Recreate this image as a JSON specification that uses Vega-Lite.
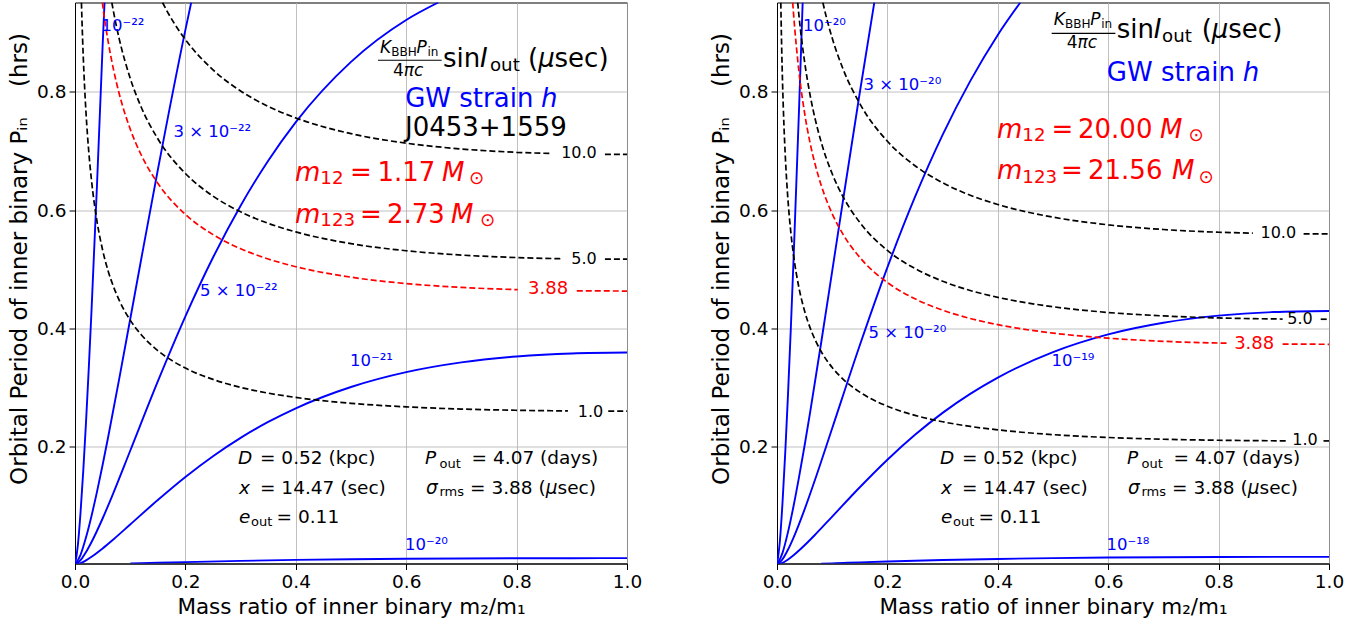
{
"$schema": "https://vega.github.io/schema/vega-lite/v6.json",
"padding": {"left": 8, "top": 1.5, "right": 5, "bottom": 2},
"autosize": {"type": "pad"},
"background": "white",
"data": {"values": [
{"p":"L","r":"h","s":"strain","c":"h22","q":0,"v":0},{"p":"L","r":"h","s":"strain","c":"h22","q":0.005,"v":0.0316},{"p":"L","r":"h","s":"strain","c":"h22","q":0.01,"v":0.0881},{"p":"L","r":"h","s":"strain","c":"h22","q":0.015,"v":0.1595},{"p":"L","r":"h","s":"strain","c":"h22","q":0.02,"v":0.242},{"p":"L","r":"h","s":"strain","c":"h22","q":0.025,"v":0.3333},{"p":"L","r":"h","s":"strain","c":"h22","q":0.03,"v":0.4319},{"p":"L","r":"h","s":"strain","c":"h22","q":0.04,"v":0.6458},{"p":"L","r":"h","s":"strain","c":"h22","q":0.05,"v":0.8768},{"p":"L","r":"h","s":"strain","c":"h22","q":0.0535,"v":0.951},
{"p":"L","r":"h","s":"strain","c":"h3","q":0,"v":0},{"p":"L","r":"h","s":"strain","c":"h3","q":0.01,"v":0.01696},{"p":"L","r":"h","s":"strain","c":"h3","q":0.02,"v":0.04658},{"p":"L","r":"h","s":"strain","c":"h3","q":0.03,"v":0.08314},{"p":"L","r":"h","s":"strain","c":"h3","q":0.04,"v":0.1243},{"p":"L","r":"h","s":"strain","c":"h3","q":0.05,"v":0.1688},{"p":"L","r":"h","s":"strain","c":"h3","q":0.06,"v":0.2157},{"p":"L","r":"h","s":"strain","c":"h3","q":0.08,"v":0.314},{"p":"L","r":"h","s":"strain","c":"h3","q":0.1,"v":0.4154},{"p":"L","r":"h","s":"strain","c":"h3","q":0.12,"v":0.5172},{"p":"L","r":"h","s":"strain","c":"h3","q":0.15,"v":0.6677},{"p":"L","r":"h","s":"strain","c":"h3","q":0.2,"v":0.9048},{"p":"L","r":"h","s":"strain","c":"h3","q":0.2105,"v":0.951},
{"p":"L","r":"h","s":"strain","c":"h5","q":0,"v":0},{"p":"L","r":"h","s":"strain","c":"h5","q":0.01,"v":0.00788},{"p":"L","r":"h","s":"strain","c":"h5","q":0.02,"v":0.02164},{"p":"L","r":"h","s":"strain","c":"h5","q":0.03,"v":0.03862},{"p":"L","r":"h","s":"strain","c":"h5","q":0.05,"v":0.0784},{"p":"L","r":"h","s":"strain","c":"h5","q":0.07,"v":0.1227},{"p":"L","r":"h","s":"strain","c":"h5","q":0.1,"v":0.193},{"p":"L","r":"h","s":"strain","c":"h5","q":0.15,"v":0.3102},{"p":"L","r":"h","s":"strain","c":"h5","q":0.2,"v":0.4203},{"p":"L","r":"h","s":"strain","c":"h5","q":0.25,"v":0.5197},{"p":"L","r":"h","s":"strain","c":"h5","q":0.3,"v":0.6074},{"p":"L","r":"h","s":"strain","c":"h5","q":0.35,"v":0.6834},{"p":"L","r":"h","s":"strain","c":"h5","q":0.4,"v":0.7487},{"p":"L","r":"h","s":"strain","c":"h5","q":0.5,"v":0.8506},{"p":"L","r":"h","s":"strain","c":"h5","q":0.6,"v":0.9214},{"p":"L","r":"h","s":"strain","c":"h5","q":0.6581,"v":0.951},
{"p":"L","r":"h","s":"strain","c":"h21","q":0,"v":0},{"p":"L","r":"h","s":"strain","c":"h21","q":0.01,"v":0.00279},{"p":"L","r":"h","s":"strain","c":"h21","q":0.02,"v":0.00765},{"p":"L","r":"h","s":"strain","c":"h21","q":0.03,"v":0.01366},{"p":"L","r":"h","s":"strain","c":"h21","q":0.05,"v":0.02773},{"p":"L","r":"h","s":"strain","c":"h21","q":0.07,"v":0.0434},{"p":"L","r":"h","s":"strain","c":"h21","q":0.1,"v":0.06825},{"p":"L","r":"h","s":"strain","c":"h21","q":0.15,"v":0.1097},{"p":"L","r":"h","s":"strain","c":"h21","q":0.2,"v":0.1487},{"p":"L","r":"h","s":"strain","c":"h21","q":0.25,"v":0.1838},{"p":"L","r":"h","s":"strain","c":"h21","q":0.3,"v":0.2148},{"p":"L","r":"h","s":"strain","c":"h21","q":0.35,"v":0.2417},{"p":"L","r":"h","s":"strain","c":"h21","q":0.4,"v":0.2648},{"p":"L","r":"h","s":"strain","c":"h21","q":0.5,"v":0.3008},{"p":"L","r":"h","s":"strain","c":"h21","q":0.6,"v":0.3259},{"p":"L","r":"h","s":"strain","c":"h21","q":0.7,"v":0.3424},{"p":"L","r":"h","s":"strain","c":"h21","q":0.8,"v":0.3524},{"p":"L","r":"h","s":"strain","c":"h21","q":0.9,"v":0.3575},{"p":"L","r":"h","s":"strain","c":"h21","q":1,"v":0.359},
{"p":"L","r":"h","s":"strain","c":"h20","q":0.1,"v":0.00216},{"p":"L","r":"h","s":"strain","c":"h20","q":0.12,"v":0.00269},{"p":"L","r":"h","s":"strain","c":"h20","q":0.15,"v":0.00347},{"p":"L","r":"h","s":"strain","c":"h20","q":0.2,"v":0.0047},{"p":"L","r":"h","s":"strain","c":"h20","q":0.3,"v":0.00679},{"p":"L","r":"h","s":"strain","c":"h20","q":0.4,"v":0.00837},{"p":"L","r":"h","s":"strain","c":"h20","q":0.5,"v":0.00951},{"p":"L","r":"h","s":"strain","c":"h20","q":0.6,"v":0.0103},{"p":"L","r":"h","s":"strain","c":"h20","q":0.7,"v":0.01082},{"p":"L","r":"h","s":"strain","c":"h20","q":0.8,"v":0.01114},{"p":"L","r":"h","s":"strain","c":"h20","q":0.9,"v":0.0113},{"p":"L","r":"h","s":"strain","c":"h20","q":1,"v":0.01135},
{"p":"L","r":"d","s":"timing","c":"t1","q":0.01167,"v":0.951},{"p":"L","r":"d","s":"timing","c":"t1","q":0.0125,"v":0.9246},{"p":"L","r":"d","s":"timing","c":"t1","q":0.015,"v":0.8583},{"p":"L","r":"d","s":"timing","c":"t1","q":0.0175,"v":0.8062},{"p":"L","r":"d","s":"timing","c":"t1","q":0.02,"v":0.7636},{"p":"L","r":"d","s":"timing","c":"t1","q":0.025,"v":0.6981},{"p":"L","r":"d","s":"timing","c":"t1","q":0.03,"v":0.6495},{"p":"L","r":"d","s":"timing","c":"t1","q":0.04,"v":0.5801},{"p":"L","r":"d","s":"timing","c":"t1","q":0.05,"v":0.5325},{"p":"L","r":"d","s":"timing","c":"t1","q":0.06,"v":0.4971},{"p":"L","r":"d","s":"timing","c":"t1","q":0.07,"v":0.4698},{"p":"L","r":"d","s":"timing","c":"t1","q":0.08,"v":0.4476},{"p":"L","r":"d","s":"timing","c":"t1","q":0.1,"v":0.4139},{"p":"L","r":"d","s":"timing","c":"t1","q":0.12,"v":0.3892},{"p":"L","r":"d","s":"timing","c":"t1","q":0.15,"v":0.3624},{"p":"L","r":"d","s":"timing","c":"t1","q":0.2,"v":0.3328},{"p":"L","r":"d","s":"timing","c":"t1","q":0.25,"v":0.3136},{"p":"L","r":"d","s":"timing","c":"t1","q":0.3,"v":0.3002},{"p":"L","r":"d","s":"timing","c":"t1","q":0.35,"v":0.2904},{"p":"L","r":"d","s":"timing","c":"t1","q":0.4,"v":0.2831},{"p":"L","r":"d","s":"timing","c":"t1","q":0.5,"v":0.2732},{"p":"L","r":"d","s":"timing","c":"t1","q":0.6,"v":0.2672},{"p":"L","r":"d","s":"timing","c":"t1","q":0.7,"v":0.2635},{"p":"L","r":"d","s":"timing","c":"t1","q":0.8,"v":0.2614},{"p":"L","r":"d","s":"timing","c":"t1","q":0.893,"v":0.2603},
{"p":"L","r":"d","s":"timing","c":"t1b","q":0.966,"v":0.26},{"p":"L","r":"d","s":"timing","c":"t1b","q":1,"v":0.26},
{"p":"L","r":"d","s":"noise","c":"t388","q":0.04965,"v":0.951},{"p":"L","r":"d","s":"noise","c":"t388","q":0.05,"v":0.9482},{"p":"L","r":"d","s":"noise","c":"t388","q":0.06,"v":0.8853},{"p":"L","r":"d","s":"noise","c":"t388","q":0.07,"v":0.8366},{"p":"L","r":"d","s":"noise","c":"t388","q":0.08,"v":0.7971},{"p":"L","r":"d","s":"noise","c":"t388","q":0.1,"v":0.737},{"p":"L","r":"d","s":"noise","c":"t388","q":0.12,"v":0.6931},{"p":"L","r":"d","s":"noise","c":"t388","q":0.15,"v":0.6453},{"p":"L","r":"d","s":"noise","c":"t388","q":0.2,"v":0.5926},{"p":"L","r":"d","s":"noise","c":"t388","q":0.25,"v":0.5585},{"p":"L","r":"d","s":"noise","c":"t388","q":0.3,"v":0.5346},{"p":"L","r":"d","s":"noise","c":"t388","q":0.35,"v":0.5172},{"p":"L","r":"d","s":"noise","c":"t388","q":0.4,"v":0.5042},{"p":"L","r":"d","s":"noise","c":"t388","q":0.5,"v":0.4865},{"p":"L","r":"d","s":"noise","c":"t388","q":0.6,"v":0.4757},{"p":"L","r":"d","s":"noise","c":"t388","q":0.7,"v":0.4692},{"p":"L","r":"d","s":"noise","c":"t388","q":0.802,"v":0.4654},
{"p":"L","r":"d","s":"noise","c":"t388b","q":0.909,"v":0.4635},{"p":"L","r":"d","s":"noise","c":"t388b","q":1,"v":0.463},
{"p":"L","r":"d","s":"timing","c":"t5","q":0.06665,"v":0.951},{"p":"L","r":"d","s":"timing","c":"t5","q":0.07,"v":0.9342},{"p":"L","r":"d","s":"timing","c":"t5","q":0.08,"v":0.89},{"p":"L","r":"d","s":"timing","c":"t5","q":0.1,"v":0.823},{"p":"L","r":"d","s":"timing","c":"t5","q":0.12,"v":0.7739},{"p":"L","r":"d","s":"timing","c":"t5","q":0.15,"v":0.7206},{"p":"L","r":"d","s":"timing","c":"t5","q":0.2,"v":0.6618},{"p":"L","r":"d","s":"timing","c":"t5","q":0.25,"v":0.6236},{"p":"L","r":"d","s":"timing","c":"t5","q":0.3,"v":0.597},{"p":"L","r":"d","s":"timing","c":"t5","q":0.35,"v":0.5775},{"p":"L","r":"d","s":"timing","c":"t5","q":0.4,"v":0.563},{"p":"L","r":"d","s":"timing","c":"t5","q":0.5,"v":0.5432},{"p":"L","r":"d","s":"timing","c":"t5","q":0.6,"v":0.5312},{"p":"L","r":"d","s":"timing","c":"t5","q":0.7,"v":0.5239},{"p":"L","r":"d","s":"timing","c":"t5","q":0.8,"v":0.5197},{"p":"L","r":"d","s":"timing","c":"t5","q":0.884,"v":0.5176},
{"p":"L","r":"d","s":"timing","c":"t5b","q":0.96,"v":0.5171},{"p":"L","r":"d","s":"timing","c":"t5b","q":1,"v":0.517},
{"p":"L","r":"d","s":"timing","c":"t10","q":0.1585,"v":0.951},{"p":"L","r":"d","s":"timing","c":"t10","q":0.17,"v":0.9311},{"p":"L","r":"d","s":"timing","c":"t10","q":0.18,"v":0.9155},{"p":"L","r":"d","s":"timing","c":"t10","q":0.2,"v":0.8883},{"p":"L","r":"d","s":"timing","c":"t10","q":0.25,"v":0.8371},{"p":"L","r":"d","s":"timing","c":"t10","q":0.3,"v":0.8014},{"p":"L","r":"d","s":"timing","c":"t10","q":0.35,"v":0.7753},{"p":"L","r":"d","s":"timing","c":"t10","q":0.4,"v":0.7558},{"p":"L","r":"d","s":"timing","c":"t10","q":0.5,"v":0.7292},{"p":"L","r":"d","s":"timing","c":"t10","q":0.6,"v":0.7131},{"p":"L","r":"d","s":"timing","c":"t10","q":0.7,"v":0.7033},{"p":"L","r":"d","s":"timing","c":"t10","q":0.8,"v":0.6976},{"p":"L","r":"d","s":"timing","c":"t10","q":0.864,"v":0.6957},
{"p":"L","r":"d","s":"timing","c":"t10b","q":0.96,"v":0.6941},{"p":"L","r":"d","s":"timing","c":"t10b","q":1,"v":0.694},
{"p":"R","r":"h","s":"strain","c":"h20","q":0,"v":0},{"p":"R","r":"h","s":"strain","c":"h20","q":0.005,"v":0.0378},{"p":"R","r":"h","s":"strain","c":"h20","q":0.01,"v":0.1054},{"p":"R","r":"h","s":"strain","c":"h20","q":0.015,"v":0.1908},{"p":"R","r":"h","s":"strain","c":"h20","q":0.02,"v":0.2895},{"p":"R","r":"h","s":"strain","c":"h20","q":0.025,"v":0.3988},{"p":"R","r":"h","s":"strain","c":"h20","q":0.03,"v":0.5167},{"p":"R","r":"h","s":"strain","c":"h20","q":0.04,"v":0.7727},{"p":"R","r":"h","s":"strain","c":"h20","q":0.0465,"v":0.951},
{"p":"R","r":"h","s":"strain","c":"h3","q":0,"v":0},{"p":"R","r":"h","s":"strain","c":"h3","q":0.01,"v":0.02029},{"p":"R","r":"h","s":"strain","c":"h3","q":0.02,"v":0.05573},{"p":"R","r":"h","s":"strain","c":"h3","q":0.03,"v":0.09946},{"p":"R","r":"h","s":"strain","c":"h3","q":0.04,"v":0.1487},{"p":"R","r":"h","s":"strain","c":"h3","q":0.05,"v":0.2019},{"p":"R","r":"h","s":"strain","c":"h3","q":0.06,"v":0.258},{"p":"R","r":"h","s":"strain","c":"h3","q":0.08,"v":0.3756},{"p":"R","r":"h","s":"strain","c":"h3","q":0.1,"v":0.4969},{"p":"R","r":"h","s":"strain","c":"h3","q":0.12,"v":0.6187},{"p":"R","r":"h","s":"strain","c":"h3","q":0.15,"v":0.7988},{"p":"R","r":"h","s":"strain","c":"h3","q":0.1763,"v":0.951},
{"p":"R","r":"h","s":"strain","c":"h5","q":0,"v":0},{"p":"R","r":"h","s":"strain","c":"h5","q":0.01,"v":0.00943},{"p":"R","r":"h","s":"strain","c":"h5","q":0.02,"v":0.0259},{"p":"R","r":"h","s":"strain","c":"h5","q":0.03,"v":0.04623},{"p":"R","r":"h","s":"strain","c":"h5","q":0.05,"v":0.09386},{"p":"R","r":"h","s":"strain","c":"h5","q":0.07,"v":0.1469},{"p":"R","r":"h","s":"strain","c":"h5","q":0.1,"v":0.231},{"p":"R","r":"h","s":"strain","c":"h5","q":0.15,"v":0.3713},{"p":"R","r":"h","s":"strain","c":"h5","q":0.2,"v":0.5031},{"p":"R","r":"h","s":"strain","c":"h5","q":0.25,"v":0.6221},{"p":"R","r":"h","s":"strain","c":"h5","q":0.3,"v":0.7271},{"p":"R","r":"h","s":"strain","c":"h5","q":0.35,"v":0.8181},{"p":"R","r":"h","s":"strain","c":"h5","q":0.4,"v":0.8962},{"p":"R","r":"h","s":"strain","c":"h5","q":0.4408,"v":0.951},
{"p":"R","r":"h","s":"strain","c":"h19","q":0,"v":0},{"p":"R","r":"h","s":"strain","c":"h19","q":0.01,"v":0.00333},{"p":"R","r":"h","s":"strain","c":"h19","q":0.02,"v":0.00915},{"p":"R","r":"h","s":"strain","c":"h19","q":0.03,"v":0.01634},{"p":"R","r":"h","s":"strain","c":"h19","q":0.05,"v":0.03317},{"p":"R","r":"h","s":"strain","c":"h19","q":0.07,"v":0.0519},{"p":"R","r":"h","s":"strain","c":"h19","q":0.1,"v":0.08163},{"p":"R","r":"h","s":"strain","c":"h19","q":0.15,"v":0.1312},{"p":"R","r":"h","s":"strain","c":"h19","q":0.2,"v":0.1778},{"p":"R","r":"h","s":"strain","c":"h19","q":0.25,"v":0.2199},{"p":"R","r":"h","s":"strain","c":"h19","q":0.3,"v":0.257},{"p":"R","r":"h","s":"strain","c":"h19","q":0.35,"v":0.2891},{"p":"R","r":"h","s":"strain","c":"h19","q":0.4,"v":0.3167},{"p":"R","r":"h","s":"strain","c":"h19","q":0.5,"v":0.3598},{"p":"R","r":"h","s":"strain","c":"h19","q":0.6,"v":0.3898},{"p":"R","r":"h","s":"strain","c":"h19","q":0.7,"v":0.4095},{"p":"R","r":"h","s":"strain","c":"h19","q":0.8,"v":0.4215},{"p":"R","r":"h","s":"strain","c":"h19","q":0.9,"v":0.4276},{"p":"R","r":"h","s":"strain","c":"h19","q":1,"v":0.4294},
{"p":"R","r":"h","s":"strain","c":"h18","q":0.08,"v":0.00195},{"p":"R","r":"h","s":"strain","c":"h18","q":0.1,"v":0.00258},{"p":"R","r":"h","s":"strain","c":"h18","q":0.12,"v":0.00321},{"p":"R","r":"h","s":"strain","c":"h18","q":0.15,"v":0.00415},{"p":"R","r":"h","s":"strain","c":"h18","q":0.2,"v":0.00562},{"p":"R","r":"h","s":"strain","c":"h18","q":0.3,"v":0.00813},{"p":"R","r":"h","s":"strain","c":"h18","q":0.4,"v":0.01002},{"p":"R","r":"h","s":"strain","c":"h18","q":0.5,"v":0.01138},{"p":"R","r":"h","s":"strain","c":"h18","q":0.6,"v":0.01233},{"p":"R","r":"h","s":"strain","c":"h18","q":0.7,"v":0.01295},{"p":"R","r":"h","s":"strain","c":"h18","q":0.8,"v":0.01333},{"p":"R","r":"h","s":"strain","c":"h18","q":0.9,"v":0.01352},{"p":"R","r":"h","s":"strain","c":"h18","q":1,"v":0.01358},
{"p":"R","r":"d","s":"timing","c":"t1","q":0.00692,"v":0.951},{"p":"R","r":"d","s":"timing","c":"t1","q":0.0075,"v":0.9199},{"p":"R","r":"d","s":"timing","c":"t1","q":0.0085,"v":0.8735},{"p":"R","r":"d","s":"timing","c":"t1","q":0.01,"v":0.817},{"p":"R","r":"d","s":"timing","c":"t1","q":0.0125,"v":0.7453},{"p":"R","r":"d","s":"timing","c":"t1","q":0.015,"v":0.6919},{"p":"R","r":"d","s":"timing","c":"t1","q":0.0175,"v":0.6499},{"p":"R","r":"d","s":"timing","c":"t1","q":0.02,"v":0.6156},{"p":"R","r":"d","s":"timing","c":"t1","q":0.025,"v":0.5628},{"p":"R","r":"d","s":"timing","c":"t1","q":0.03,"v":0.5236},{"p":"R","r":"d","s":"timing","c":"t1","q":0.04,"v":0.4676},{"p":"R","r":"d","s":"timing","c":"t1","q":0.05,"v":0.4293},{"p":"R","r":"d","s":"timing","c":"t1","q":0.06,"v":0.4008},{"p":"R","r":"d","s":"timing","c":"t1","q":0.07,"v":0.3787},{"p":"R","r":"d","s":"timing","c":"t1","q":0.08,"v":0.3608},{"p":"R","r":"d","s":"timing","c":"t1","q":0.1,"v":0.3337},{"p":"R","r":"d","s":"timing","c":"t1","q":0.12,"v":0.3138},{"p":"R","r":"d","s":"timing","c":"t1","q":0.15,"v":0.2921},{"p":"R","r":"d","s":"timing","c":"t1","q":0.2,"v":0.2683},{"p":"R","r":"d","s":"timing","c":"t1","q":0.25,"v":0.2528},{"p":"R","r":"d","s":"timing","c":"t1","q":0.3,"v":0.242},{"p":"R","r":"d","s":"timing","c":"t1","q":0.35,"v":0.2341},{"p":"R","r":"d","s":"timing","c":"t1","q":0.4,"v":0.2283},{"p":"R","r":"d","s":"timing","c":"t1","q":0.5,"v":0.2202},{"p":"R","r":"d","s":"timing","c":"t1","q":0.6,"v":0.2154},{"p":"R","r":"d","s":"timing","c":"t1","q":0.7,"v":0.2124},{"p":"R","r":"d","s":"timing","c":"t1","q":0.8,"v":0.2107},{"p":"R","r":"d","s":"timing","c":"t1","q":0.925,"v":0.2097},
{"p":"R","r":"d","s":"timing","c":"t1b","q":0.99,"v":0.2096},{"p":"R","r":"d","s":"timing","c":"t1b","q":1,"v":0.2096},
{"p":"R","r":"d","s":"noise","c":"t388","q":0.02845,"v":0.951},{"p":"R","r":"d","s":"noise","c":"t388","q":0.03,"v":0.9318},{"p":"R","r":"d","s":"noise","c":"t388","q":0.04,"v":0.8322},{"p":"R","r":"d","s":"noise","c":"t388","q":0.05,"v":0.7639},{"p":"R","r":"d","s":"noise","c":"t388","q":0.06,"v":0.7132},{"p":"R","r":"d","s":"noise","c":"t388","q":0.07,"v":0.674},{"p":"R","r":"d","s":"noise","c":"t388","q":0.08,"v":0.6421},{"p":"R","r":"d","s":"noise","c":"t388","q":0.1,"v":0.5938},{"p":"R","r":"d","s":"noise","c":"t388","q":0.12,"v":0.5584},{"p":"R","r":"d","s":"noise","c":"t388","q":0.15,"v":0.5199},{"p":"R","r":"d","s":"noise","c":"t388","q":0.2,"v":0.4774},{"p":"R","r":"d","s":"noise","c":"t388","q":0.25,"v":0.4499},{"p":"R","r":"d","s":"noise","c":"t388","q":0.3,"v":0.4307},{"p":"R","r":"d","s":"noise","c":"t388","q":0.35,"v":0.4167},{"p":"R","r":"d","s":"noise","c":"t388","q":0.4,"v":0.4062},{"p":"R","r":"d","s":"noise","c":"t388","q":0.5,"v":0.3919},{"p":"R","r":"d","s":"noise","c":"t388","q":0.6,"v":0.3833},{"p":"R","r":"d","s":"noise","c":"t388","q":0.7,"v":0.378},{"p":"R","r":"d","s":"noise","c":"t388","q":0.816,"v":0.3748},
{"p":"R","r":"d","s":"noise","c":"t388b","q":0.916,"v":0.3734},{"p":"R","r":"d","s":"noise","c":"t388b","q":1,"v":0.373},
{"p":"R","r":"d","s":"timing","c":"t5","q":0.0375,"v":0.951},{"p":"R","r":"d","s":"timing","c":"t5","q":0.04,"v":0.9268},{"p":"R","r":"d","s":"timing","c":"t5","q":0.05,"v":0.8507},{"p":"R","r":"d","s":"timing","c":"t5","q":0.06,"v":0.7942},{"p":"R","r":"d","s":"timing","c":"t5","q":0.07,"v":0.7506},{"p":"R","r":"d","s":"timing","c":"t5","q":0.08,"v":0.7151},{"p":"R","r":"d","s":"timing","c":"t5","q":0.1,"v":0.6613},{"p":"R","r":"d","s":"timing","c":"t5","q":0.12,"v":0.6219},{"p":"R","r":"d","s":"timing","c":"t5","q":0.15,"v":0.579},{"p":"R","r":"d","s":"timing","c":"t5","q":0.2,"v":0.5317},{"p":"R","r":"d","s":"timing","c":"t5","q":0.25,"v":0.5011},{"p":"R","r":"d","s":"timing","c":"t5","q":0.3,"v":0.4797},{"p":"R","r":"d","s":"timing","c":"t5","q":0.35,"v":0.464},{"p":"R","r":"d","s":"timing","c":"t5","q":0.4,"v":0.4524},{"p":"R","r":"d","s":"timing","c":"t5","q":0.5,"v":0.4365},{"p":"R","r":"d","s":"timing","c":"t5","q":0.6,"v":0.4268},{"p":"R","r":"d","s":"timing","c":"t5","q":0.7,"v":0.421},{"p":"R","r":"d","s":"timing","c":"t5","q":0.8,"v":0.4176},{"p":"R","r":"d","s":"timing","c":"t5","q":0.916,"v":0.4157},
{"p":"R","r":"d","s":"timing","c":"t5b","q":0.985,"v":0.4154},{"p":"R","r":"d","s":"timing","c":"t5b","q":1,"v":0.4154},
{"p":"R","r":"d","s":"timing","c":"t10","q":0.08305,"v":0.951},{"p":"R","r":"d","s":"timing","c":"t10","q":0.09,"v":0.924},{"p":"R","r":"d","s":"timing","c":"t10","q":0.1,"v":0.8908},{"p":"R","r":"d","s":"timing","c":"t10","q":0.12,"v":0.8377},{"p":"R","r":"d","s":"timing","c":"t10","q":0.15,"v":0.78},{"p":"R","r":"d","s":"timing","c":"t10","q":0.2,"v":0.7163},{"p":"R","r":"d","s":"timing","c":"t10","q":0.25,"v":0.675},{"p":"R","r":"d","s":"timing","c":"t10","q":0.3,"v":0.6462},{"p":"R","r":"d","s":"timing","c":"t10","q":0.35,"v":0.6251},{"p":"R","r":"d","s":"timing","c":"t10","q":0.4,"v":0.6094},{"p":"R","r":"d","s":"timing","c":"t10","q":0.5,"v":0.588},{"p":"R","r":"d","s":"timing","c":"t10","q":0.6,"v":0.575},{"p":"R","r":"d","s":"timing","c":"t10","q":0.7,"v":0.5671},{"p":"R","r":"d","s":"timing","c":"t10","q":0.8,"v":0.5625},{"p":"R","r":"d","s":"timing","c":"t10","q":0.862,"v":0.5609},
{"p":"R","r":"d","s":"timing","c":"t10b","q":0.954,"v":0.5597},{"p":"R","r":"d","s":"timing","c":"t10b","q":1,"v":0.5596},

{"p":"L","r":"frit","s":"info","t":"K","q":0.5525,"v":0.8651},
{"p":"L","r":"frsub","s":"info","t":"BBH","q":0.5728,"v":0.8605},
{"p":"L","r":"frit","s":"info","t":"P","q":0.6187,"v":0.8651},
{"p":"L","r":"frsub","s":"info","t":"in","q":0.6386,"v":0.8605},
{"p":"L","r":"fr","s":"info","t":"4","q":0.5761,"v":0.8267},
{"p":"L","r":"frit","s":"info","t":"πc","q":0.5957,"v":0.8267},
{"p":"L","r":"bar","s":"info","q":0.5489,"q2":0.6643,"v":0.8533},
{"p":"L","r":"big","s":"info","t":"sin","q":0.6667,"v":0.8424},
{"p":"L","r":"bigit","s":"info","t":"I","q":0.7337,"v":0.8424},
{"p":"L","r":"bigsub","s":"info","t":"out","q":0.7518,"v":0.8352},
{"p":"L","r":"big","s":"info","t":"(","q":0.8207,"v":0.8424},
{"p":"L","r":"bigit","s":"info","t":"μ","q":0.839,"v":0.8424},
{"p":"L","r":"big","s":"info","t":"sec)","q":0.8688,"v":0.8424},
{"p":"L","r":"big","s":"strain","t":"GW strain","q":0.5982,"v":0.7743},
{"p":"L","r":"bigit","s":"strain","t":"h","q":0.8442,"v":0.7743},
{"p":"L","r":"big","s":"info","t":"J0453+1559","q":0.5978,"v":0.7253},
{"p":"L","r":"bigit","s":"mass","t":"m","q":0.3986,"v":0.6492},
{"p":"L","r":"bigsub","s":"mass","t":"12","q":0.4444,"v":0.6433},
{"p":"L","r":"big","s":"mass","t":"=","q":0.4982,"v":0.6492},
{"p":"L","r":"big","s":"mass","t":"1.17","q":0.548,"v":0.6492},
{"p":"L","r":"bigit","s":"mass","t":"M","q":0.6649,"v":0.6492},
{"p":"L","r":"bigsub","s":"mass","t":"⊙","q":0.7138,"v":0.6433},
{"p":"L","r":"bigit","s":"mass","t":"m","q":0.3986,"v":0.5787},
{"p":"L","r":"bigsub","s":"mass","t":"123","q":0.4444,"v":0.5727},
{"p":"L","r":"big","s":"mass","t":"=","q":0.5163,"v":0.5787},
{"p":"L","r":"big","s":"mass","t":"2.73","q":0.5652,"v":0.5787},
{"p":"L","r":"bigit","s":"mass","t":"M","q":0.6812,"v":0.5787},
{"p":"L","r":"bigsub","s":"mass","t":"⊙","q":0.7337,"v":0.5727},

{"p":"R","r":"frit","s":"info","t":"K","q":0.5013,"v":0.913},
{"p":"R","r":"frsub","s":"info","t":"BBH","q":0.5216,"v":0.9084},
{"p":"R","r":"frit","s":"info","t":"P","q":0.5674,"v":0.913},
{"p":"R","r":"frsub","s":"info","t":"in","q":0.5873,"v":0.9084},
{"p":"R","r":"fr","s":"info","t":"4","q":0.5248,"v":0.8746},
{"p":"R","r":"frit","s":"info","t":"πc","q":0.5444,"v":0.8746},
{"p":"R","r":"bar","s":"info","q":0.4976,"q2":0.613,"v":0.8989},
{"p":"R","r":"big","s":"info","t":"sin","q":0.6154,"v":0.8915},
{"p":"R","r":"bigit","s":"info","t":"I","q":0.6825,"v":0.8915},
{"p":"R","r":"bigsub","s":"info","t":"out","q":0.6975,"v":0.8842},
{"p":"R","r":"big","s":"info","t":"(","q":0.7694,"v":0.8915},
{"p":"R","r":"bigit","s":"info","t":"μ","q":0.7877,"v":0.8915},
{"p":"R","r":"big","s":"info","t":"sec)","q":0.8176,"v":0.8915},
{"p":"R","r":"big","s":"strain","t":"GW strain","q":0.5975,"v":0.8183},
{"p":"R","r":"bigit","s":"strain","t":"h","q":0.8438,"v":0.8183},
{"p":"R","r":"bigit","s":"mass","t":"m","q":0.3986,"v":0.7224},
{"p":"R","r":"bigsub","s":"mass","t":"12","q":0.4444,"v":0.7165},
{"p":"R","r":"big","s":"mass","t":"=","q":0.4973,"v":0.7224},
{"p":"R","r":"big","s":"mass","t":"20.00","q":0.5453,"v":0.7224},
{"p":"R","r":"bigit","s":"mass","t":"M","q":0.6938,"v":0.7224},
{"p":"R","r":"bigsub","s":"mass","t":"⊙","q":0.7455,"v":0.7165},
{"p":"R","r":"bigit","s":"mass","t":"m","q":0.3986,"v":0.652},
{"p":"R","r":"bigsub","s":"mass","t":"123","q":0.4444,"v":0.6461},
{"p":"R","r":"big","s":"mass","t":"=","q":0.5145,"v":0.652},
{"p":"R","r":"big","s":"mass","t":"21.56","q":0.5634,"v":0.652},
{"p":"R","r":"bigit","s":"mass","t":"M","q":0.7156,"v":0.652},
{"p":"R","r":"bigsub","s":"mass","t":"⊙","q":0.7636,"v":0.6461},

{"p":"L","r":"noteit","s":"info","t":"D","q":0.2953,"v":0.1701},
{"p":"L","r":"note","s":"info","t":"= 0.52 (kpc)","q":0.3351,"v":0.1701},
{"p":"L","r":"noteit","s":"info","t":"x","q":0.2971,"v":0.1194},
{"p":"L","r":"note","s":"info","t":"= 14.47 (sec)","q":0.3351,"v":0.1194},
{"p":"L","r":"noteit","s":"info","t":"e","q":0.2971,"v":0.0714},
{"p":"L","r":"notesub","s":"info","t":"out","q":0.3188,"v":0.0658},
{"p":"L","r":"note","s":"info","t":"= 0.11","q":0.3652,"v":0.0714},
{"p":"L","r":"noteit","s":"info","t":"P","q":0.6341,"v":0.1701},
{"p":"L","r":"notesub","s":"info","t":"out","q":0.6603,"v":0.1644},
{"p":"L","r":"note","s":"info","t":"=","q":0.7185,"v":0.1701},
{"p":"L","r":"note","s":"info","t":"4.07 (days)","q":0.7572,"v":0.1701},
{"p":"L","r":"noteit","s":"info","t":"σ","q":0.6359,"v":0.1194},
{"p":"L","r":"notesub","s":"info","t":"rms","q":0.6603,"v":0.1165},
{"p":"L","r":"note","s":"info","t":"= 3.88 (","q":0.7156,"v":0.1194},
{"p":"L","r":"noteit","s":"info","t":"μ","q":0.8527,"v":0.1194},
{"p":"L","r":"note","s":"info","t":"sec)","q":0.8741,"v":0.1194},
{"p":"R","r":"noteit","s":"info","t":"D","q":0.2953,"v":0.1701},
{"p":"R","r":"note","s":"info","t":"= 0.52 (kpc)","q":0.3351,"v":0.1701},
{"p":"R","r":"noteit","s":"info","t":"x","q":0.2971,"v":0.1194},
{"p":"R","r":"note","s":"info","t":"= 14.47 (sec)","q":0.3351,"v":0.1194},
{"p":"R","r":"noteit","s":"info","t":"e","q":0.2971,"v":0.0714},
{"p":"R","r":"notesub","s":"info","t":"out","q":0.3188,"v":0.0658},
{"p":"R","r":"note","s":"info","t":"= 0.11","q":0.3652,"v":0.0714},
{"p":"R","r":"noteit","s":"info","t":"P","q":0.6341,"v":0.1701},
{"p":"R","r":"notesub","s":"info","t":"out","q":0.6603,"v":0.1644},
{"p":"R","r":"note","s":"info","t":"=","q":0.7185,"v":0.1701},
{"p":"R","r":"note","s":"info","t":"4.07 (days)","q":0.7572,"v":0.1701},
{"p":"R","r":"noteit","s":"info","t":"σ","q":0.6359,"v":0.1194},
{"p":"R","r":"notesub","s":"info","t":"rms","q":0.6603,"v":0.1165},
{"p":"R","r":"note","s":"info","t":"= 3.88 (","q":0.7156,"v":0.1194},
{"p":"R","r":"noteit","s":"info","t":"μ","q":0.8527,"v":0.1194},
{"p":"R","r":"note","s":"info","t":"sec)","q":0.8741,"v":0.1194},

{"p":"L","r":"clab","s":"timing","t":"10.0","q":0.913,"v":0.6957},
{"p":"L","r":"clab","s":"timing","t":"5.0","q":0.922,"v":0.518},
{"p":"L","r":"clab","s":"timing","t":"1.0","q":0.934,"v":0.259},
{"p":"L","r":"clab2","s":"noise","t":"3.88","q":0.857,"v":0.466},
{"p":"R","r":"clab","s":"timing","t":"10.0","q":0.9082,"v":0.5604},
{"p":"R","r":"clab","s":"timing","t":"5.0","q":0.9475,"v":0.4153},
{"p":"R","r":"clab","s":"timing","t":"1.0","q":0.9565,"v":0.211},
{"p":"R","r":"clab2","s":"noise","t":"3.88","q":0.8645,"v":0.373},
{"p":"L","r":"hl","s":"strain","t":"10⁻²²","q":0.048,"v":0.911},
{"p":"L","r":"hl","s":"strain","t":"3 × 10⁻²²","q":0.1784,"v":0.732},
{"p":"L","r":"hl","s":"strain","t":"5 × 10⁻²²","q":0.2264,"v":0.4623},
{"p":"L","r":"hl","s":"strain","t":"10⁻²¹","q":0.4982,"v":0.344},
{"p":"L","r":"hl","s":"strain","t":"10⁻²⁰","q":0.5978,"v":0.033},
{"p":"R","r":"hl","s":"strain","t":"10⁻²⁰","q":0.0471,"v":0.911},
{"p":"R","r":"hl","s":"strain","t":"3 × 10⁻²⁰","q":0.1567,"v":0.8107},
{"p":"R","r":"hl","s":"strain","t":"5 × 10⁻²⁰","q":0.1658,"v":0.3913},
{"p":"R","r":"hl","s":"strain","t":"10⁻¹⁹","q":0.4973,"v":0.344},
{"p":"R","r":"hl","s":"strain","t":"10⁻¹⁸","q":0.5969,"v":0.033}
]},
"facet": {"column": {"field": "p", "type": "nominal", "sort": ["L", "R"], "header": {"labels": false, "title": null, "labelPadding": 0, "titlePadding": 0}}},
"spacing": 150,
"bounds": "flush",
"resolve": {"axis": {"y": "independent", "x": "independent"}},
"spec": {
  "width": 552,
  "height": 561,
  "encoding": {
    "x": {"field": "q", "type": "quantitative", "scale": {"domain": [0, 1], "nice": false, "zero": false},
          "axis": {"values": [0, 0.2, 0.4, 0.6, 0.8, 1], "format": ".1f", "title": "Mass ratio of inner binary m₂/m₁", "titleFontSize": 21.5}},
    "y": {"field": "v", "type": "quantitative", "scale": {"domain": [0.0023, 0.951], "nice": false, "zero": false},
          "axis": {"values": [0.2, 0.4, 0.6, 0.8], "format": ".1f", "title": "Orbital Period of inner binary Pᵢₙ\u2003 (hrs)", "titleFontSize": 23, "titleY": 256}},
    "color": {"field": "s", "type": "nominal", "legend": null,
              "scale": {"domain": ["timing", "noise", "strain", "mass", "info"], "range": ["#000000", "#ff0000", "#0000ff", "#ff0000", "#000000"]}}
  },
  "layer": [
    {"transform": [{"filter": "datum.r === 'h'"}], "mark": {"type": "line", "strokeWidth": 1.9, "clip": true, "interpolate": "monotone"}, "encoding": {"detail": {"field": "c"}}},
    {"transform": [{"filter": "datum.r === 'd'"}], "mark": {"type": "line", "strokeWidth": 1.7, "strokeDash": [6, 3], "clip": true, "interpolate": "monotone"}, "encoding": {"detail": {"field": "c"}}},
    {"transform": [{"filter": "datum.r === 'bar'"}], "mark": {"type": "rule", "strokeWidth": 1.2}, "encoding": {"x2": {"field": "q2"}}},
    {"transform": [{"filter": "datum.r === 'big'"}], "mark": {"type": "text", "fontSize": 26, "align": "left", "baseline": "alphabetic"}, "encoding": {"text": {"field": "t"}}},
    {"transform": [{"filter": "datum.r === 'bigit'"}], "mark": {"type": "text", "fontSize": 26, "fontStyle": "italic", "align": "left", "baseline": "alphabetic"}, "encoding": {"text": {"field": "t"}}},
    {"transform": [{"filter": "datum.r === 'bigsub'"}], "mark": {"type": "text", "fontSize": 18.2, "align": "left", "baseline": "alphabetic"}, "encoding": {"text": {"field": "t"}}},
    {"transform": [{"filter": "datum.r === 'fr'"}], "mark": {"type": "text", "fontSize": 17, "align": "left", "baseline": "alphabetic"}, "encoding": {"text": {"field": "t"}}},
    {"transform": [{"filter": "datum.r === 'frit'"}], "mark": {"type": "text", "fontSize": 17, "fontStyle": "italic", "align": "left", "baseline": "alphabetic"}, "encoding": {"text": {"field": "t"}}},
    {"transform": [{"filter": "datum.r === 'frsub'"}], "mark": {"type": "text", "fontSize": 12, "align": "left", "baseline": "alphabetic"}, "encoding": {"text": {"field": "t"}}},
    {"transform": [{"filter": "datum.r === 'note'"}], "mark": {"type": "text", "fontSize": 18.5, "align": "left", "baseline": "alphabetic"}, "encoding": {"text": {"field": "t"}}},
    {"transform": [{"filter": "datum.r === 'noteit'"}], "mark": {"type": "text", "fontSize": 18.5, "fontStyle": "italic", "align": "left", "baseline": "alphabetic"}, "encoding": {"text": {"field": "t"}}},
    {"transform": [{"filter": "datum.r === 'notesub'"}], "mark": {"type": "text", "fontSize": 13, "align": "left", "baseline": "alphabetic"}, "encoding": {"text": {"field": "t"}}},
    {"transform": [{"filter": "datum.r === 'clab'"}], "mark": {"type": "text", "fontSize": 16, "align": "center", "baseline": "middle"}, "encoding": {"text": {"field": "t"}}},
    {"transform": [{"filter": "datum.r === 'clab2'"}], "mark": {"type": "text", "fontSize": 18, "align": "center", "baseline": "middle"}, "encoding": {"text": {"field": "t"}}},
    {"transform": [{"filter": "datum.r === 'hl'"}], "mark": {"type": "text", "fontSize": 16.5, "align": "left", "baseline": "middle"}, "encoding": {"text": {"field": "t"}}}
  ]
},
"config": {
  "font": "DejaVu Sans",
  "view": {"stroke": "#000000", "strokeWidth": 1},
  "text": {"font": "DejaVu Sans"},
  "axis": {"labelFont": "DejaVu Sans", "titleFont": "DejaVu Sans", "labelFontSize": 18.5, "titleFontSize": 22, "titleFontWeight": "normal",
           "labelColor": "#000000", "titleColor": "#000000", "tickColor": "#000000", "domainColor": "#000000",
           "tickSize": 6, "labelPadding": 3, "titlePadding": 5, "gridColor": "#b0b0b0", "gridWidth": 0.8, "gridOpacity": 1,
           "labelFlush": false, "labelOverlap": false}
}
}
